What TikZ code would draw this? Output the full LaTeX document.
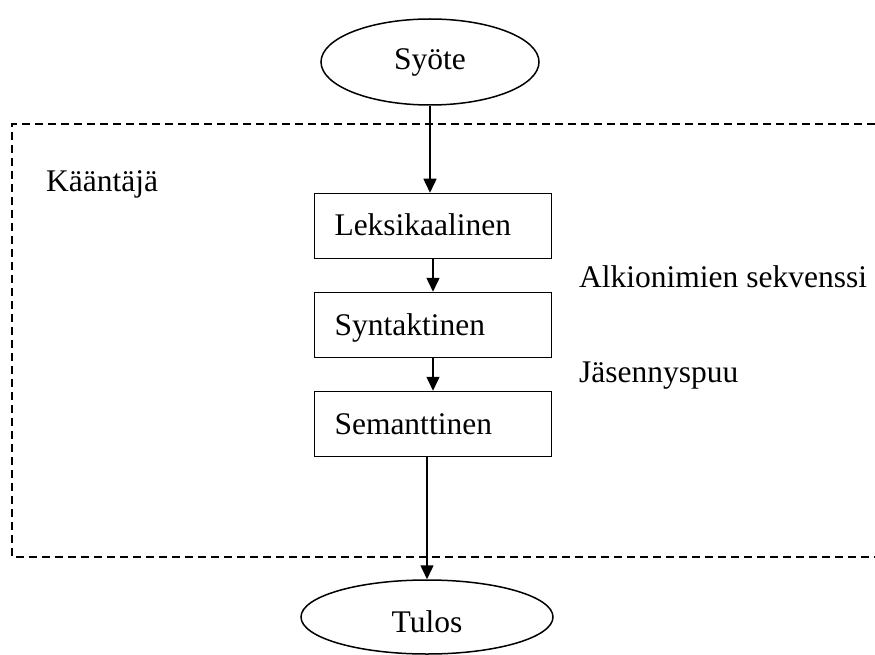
\documentclass[tikz,border=0pt]{standalone}
\usepackage{fontspec}
\setmainfont{Liberation Serif}
\usepackage{tikz}
\usetikzlibrary{shapes.geometric}
\usetikzlibrary{arrows, arrows.meta}

\begin{document}
\begin{tikzpicture}[x=1pt, y=-1pt,
	every node/.style={font=\fontsize{31.5}{38}\selectfont},
	phase/.style={draw, line width=1.5pt, inner xsep=20pt, inner ysep=0pt,
		text width=197pt, align=left, minimum height=65pt,
		text height=20pt, text depth=0pt},
	terminal/.style={draw, ellipse, line width=1.5pt, inner sep=0pt,
		text depth=0pt},
	label/.style={anchor=base west, inner sep=0pt},
	flow/.style={line width=1.5pt, -{Triangle[length=14pt, width=13pt]}}]

\useasboundingbox (0,0) rectangle (875,655);

\draw [line width=1.3pt, dash pattern=on 8pt off 5pt]
	(875,124) -- (12,124) -- (12,557) -- (875,557);

\node[terminal, minimum width=218pt, minimum height=86pt, text height=16pt] (syote) at (430,62) {Syöte};
\node[phase] (leks) at (433,226) {Leksikaalinen};
\node[phase] (synt) at (433,325) {Syntaktinen};
\node[phase] (sem) at (433,424) {Semanttinen};
\node[terminal, minimum width=252pt, minimum height=74pt, text height=30pt] (tulos) at (427,617) {Tulos};

\node[label] (kaantaja) at (46,192) {Kääntäjä};
\node[label] (alkiot) at (579,287) {Alkionimien sekvenssi};
\node[label] (puu) at (579,382) {Jäsennyspuu};

\draw [flow] (syote.south) -- (syote.south |- leks.north);
\draw [flow] (leks.south) -- (synt.north);
\draw [flow] (synt.south) -- (sem.north);
\draw [flow] (tulos.north |- sem.south) -- (tulos.north);

\end{tikzpicture}
\end{document}
